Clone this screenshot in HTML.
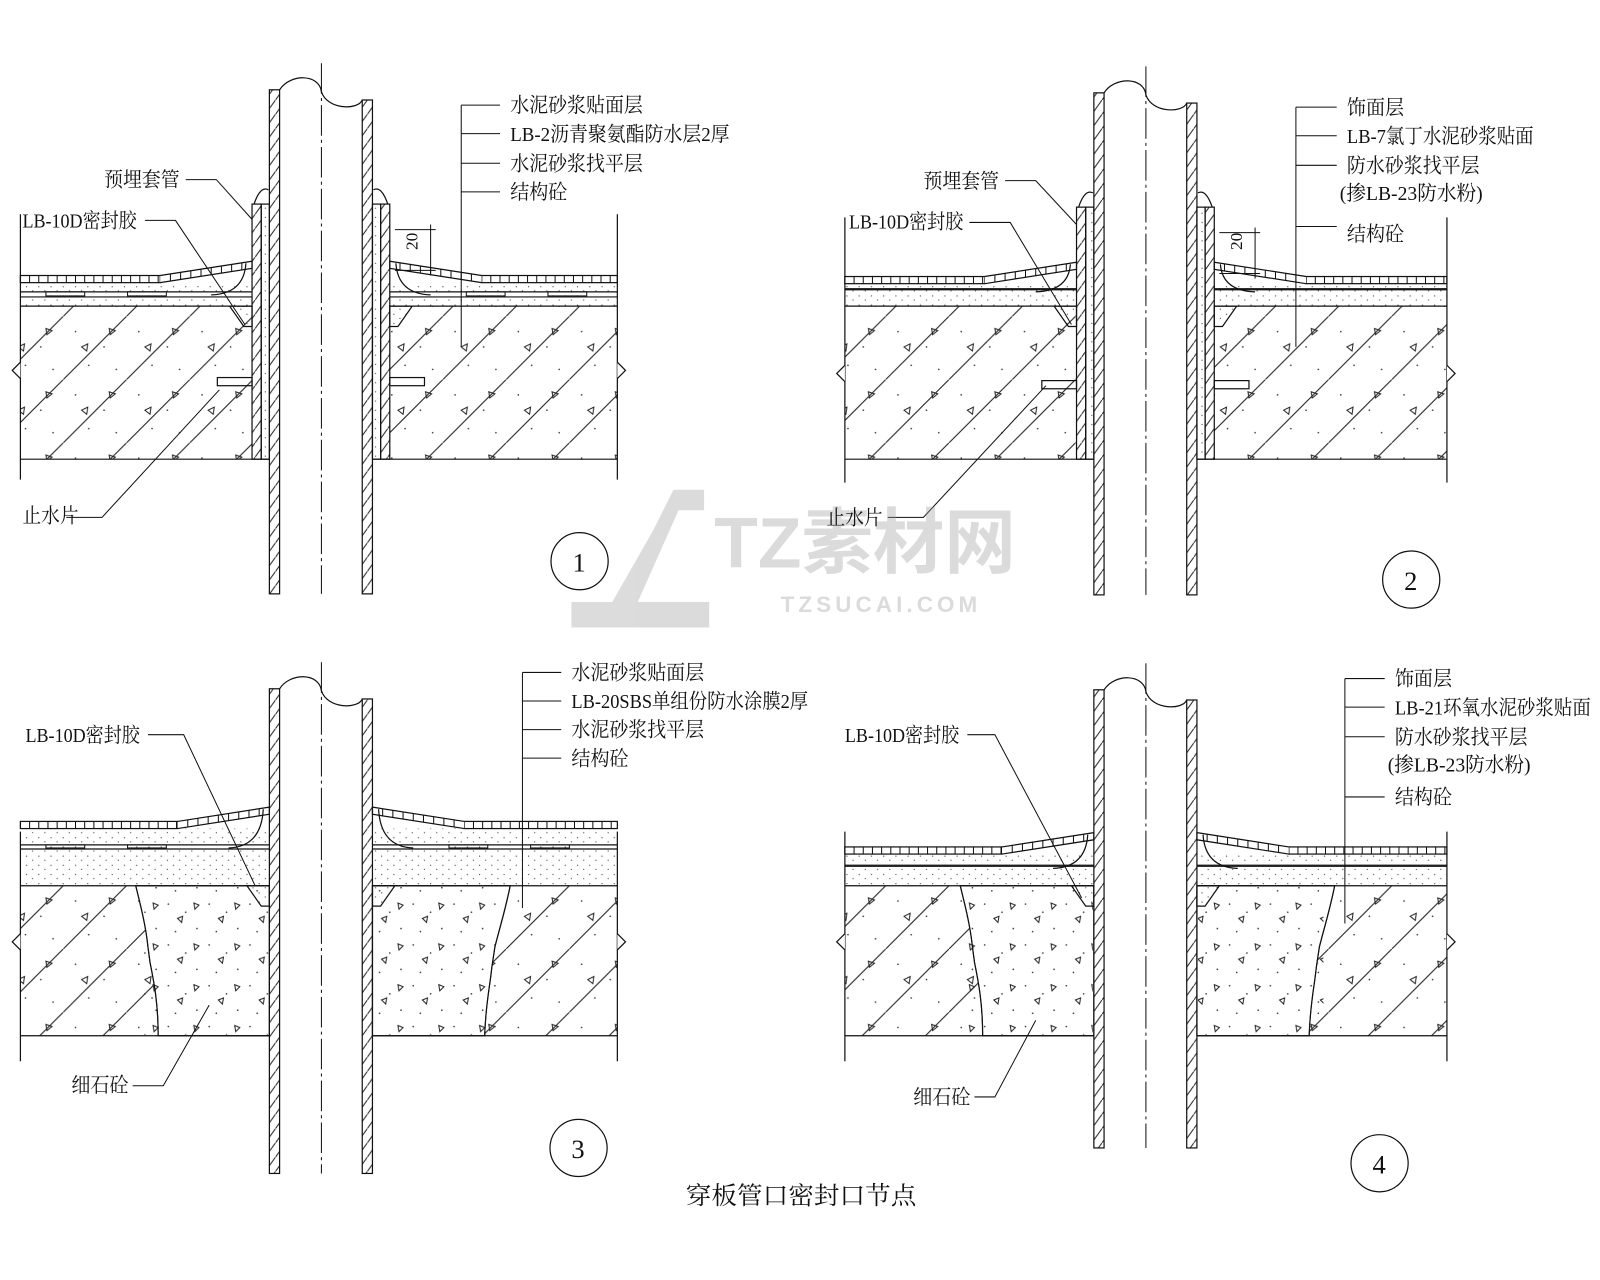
<!DOCTYPE html>
<html><head><meta charset="utf-8"><style>
html,body{margin:0;padding:0;background:#fff;}
svg{display:block;}
text{font-family:"Liberation Serif","Noto Serif CJK SC",serif;fill:#111;}
</style></head><body>
<svg id="s" width="1600" height="1280" viewBox="0 0 1600 1280" xmlns="http://www.w3.org/2000/svg">
<defs>
<pattern id="conc" patternUnits="userSpaceOnUse" width="62" height="62">
<line x1="0" y1="62" x2="62" y2="0" stroke="#222" stroke-width="1.1"/>
<circle cx="12" cy="15" r="0.8" fill="#333"/><circle cx="40" cy="30" r="0.8" fill="#333"/><circle cx="25" cy="48" r="0.8" fill="#333"/><circle cx="52" cy="52" r="0.8" fill="#333"/>
<path d="M18 30 l6 -3 l-1 7z" fill="none" stroke="#222" stroke-width="1"/>
<path d="M45 12 l6 2 l-5 4z" fill="none" stroke="#222" stroke-width="1"/>
</pattern>
<pattern id="fine" patternUnits="userSpaceOnUse" width="40" height="40">
<circle cx="5" cy="6" r="0.8" fill="#333"/><circle cx="22" cy="14" r="0.8" fill="#333"/><circle cx="33" cy="30" r="0.8" fill="#333"/><circle cx="12" cy="33" r="0.8" fill="#333"/>
<path d="M14 20 l5 -2 l-1 6z" fill="none" stroke="#222" stroke-width="1"/>
<path d="M30 5 l5 2 l-4 4z" fill="none" stroke="#222" stroke-width="1"/>
</pattern>
<pattern id="dots" patternUnits="userSpaceOnUse" width="12" height="9">
<circle cx="2" cy="2" r="0.6" fill="#444"/><circle cx="8" cy="6" r="0.6" fill="#444"/>
</pattern>
<pattern id="wall" patternUnits="userSpaceOnUse" width="10" height="14">
<line x1="0" y1="14" x2="10" y2="0" stroke="#222" stroke-width="1"/>
</pattern>
</defs>
<g transform="scale(1.0204)">
<g id="g" stroke="#111" stroke-width="1.2" fill="none"></g>

<g opacity="0.35" fill="#9a9a9a" stroke="none">
<path d="M560 590 L600 590 L640 520 L660 480 L690 480 L690 500 L665 500 L625 590 L695 590 L695 615 L560 615 Z"/>
<text x="700" y="556" font-size="70" font-weight="bold" style="fill:#9a9a9a;font-family:'Liberation Sans','Noto Sans CJK SC',sans-serif">TZ素材网</text>
<text x="765" y="600" font-size="22" font-weight="bold" style="fill:#9a9a9a;font-family:'Liberation Sans',sans-serif;letter-spacing:4px">TZSUCAI.COM</text>
</g>

<g font-size="20">
<text x="500" y="110" textLength="130" lengthAdjust="spacingAndGlyphs">水泥砂浆贴面层</text>
<text x="500" y="138" textLength="215" lengthAdjust="spacingAndGlyphs">LB-2沥青聚氨酯防水层2厚</text>
<text x="500" y="167" textLength="130" lengthAdjust="spacingAndGlyphs">水泥砂浆找平层</text>
<text x="500" y="195" textLength="56" lengthAdjust="spacingAndGlyphs">结构砼</text>
<text x="102" y="183" textLength="74" lengthAdjust="spacingAndGlyphs">预埋套管</text>
<text x="22" y="223" textLength="112" lengthAdjust="spacingAndGlyphs">LB-10D密封胶</text>
<text x="22" y="512" textLength="55" lengthAdjust="spacingAndGlyphs">止水片</text>
<text x="405" y="235" font-size="17" transform="rotate(-90 412 238)">20</text>
<text x="1320" y="112" textLength="56" lengthAdjust="spacingAndGlyphs">饰面层</text>
<text x="1320" y="140" textLength="183" lengthAdjust="spacingAndGlyphs">LB-7氯丁水泥砂浆贴面</text>
<text x="1320" y="169" textLength="130" lengthAdjust="spacingAndGlyphs">防水砂浆找平层</text>
<text x="1313" y="196" textLength="140" lengthAdjust="spacingAndGlyphs">(掺LB-23防水粉)</text>
<text x="1320" y="236" textLength="56" lengthAdjust="spacingAndGlyphs">结构砼</text>
<text x="905" y="184" textLength="74" lengthAdjust="spacingAndGlyphs">预埋套管</text>
<text x="832" y="224" textLength="112" lengthAdjust="spacingAndGlyphs">LB-10D密封胶</text>
<text x="810" y="514" textLength="55" lengthAdjust="spacingAndGlyphs">止水片</text>
<text x="1213" y="235" font-size="17" transform="rotate(-90 1220 238)">20</text>
<text x="560" y="666" textLength="130" lengthAdjust="spacingAndGlyphs">水泥砂浆贴面层</text>
<text x="560" y="694" textLength="232" lengthAdjust="spacingAndGlyphs">LB-20SBS单组份防水涂膜2厚</text>
<text x="560" y="722" textLength="130" lengthAdjust="spacingAndGlyphs">水泥砂浆找平层</text>
<text x="560" y="750" textLength="56" lengthAdjust="spacingAndGlyphs">结构砼</text>
<text x="25" y="727" textLength="112" lengthAdjust="spacingAndGlyphs">LB-10D密封胶</text>
<text x="70" y="1070" textLength="56" lengthAdjust="spacingAndGlyphs">细石砼</text>
<text x="1367" y="672" textLength="56" lengthAdjust="spacingAndGlyphs">饰面层</text>
<text x="1367" y="700" textLength="192" lengthAdjust="spacingAndGlyphs">LB-21环氧水泥砂浆贴面</text>
<text x="1367" y="729" textLength="130" lengthAdjust="spacingAndGlyphs">防水砂浆找平层</text>
<text x="1360" y="756" textLength="140" lengthAdjust="spacingAndGlyphs">(掺LB-23防水粉)</text>
<text x="1367" y="788" textLength="56" lengthAdjust="spacingAndGlyphs">结构砼</text>
<text x="828" y="727" textLength="112" lengthAdjust="spacingAndGlyphs">LB-10D密封胶</text>
<text x="895" y="1082" textLength="56" lengthAdjust="spacingAndGlyphs">细石砼</text>
<text x="561" y="560" font-size="26">1</text>
<text x="1376" y="578" font-size="26">2</text>
<text x="560" y="1135" font-size="26">3</text>
<text x="1345" y="1150" font-size="26">4</text>
<text x="672" y="1180" font-size="24" textLength="226" lengthAdjust="spacingAndGlyphs">穿板管口密封口节点</text>
</g>
</g>
</svg>
<script>
var g=document.getElementById('g');var NS='http://www.w3.org/2000/svg';
function el(t,a){var e=document.createElementNS(NS,t);for(var k in a)e.setAttribute(k,a[k]);g.appendChild(e);return e;}
function L(x1,y1,x2,y2,w){el('line',{x1:x1,y1:y1,x2:x2,y2:y2,'stroke-width':w||1.2});}
function R(x,y,w,h,f,sw){var a={x:x,y:y,width:w,height:h,fill:f||'none'};if(sw!==undefined)a['stroke-width']=sw;el('rect',a);}
function P(d,f,w){el('path',{d:d,fill:f||'none','stroke-width':w||1.2});}
function C(x,y,r){el('circle',{cx:x,cy:y,r:r});}
function tiles(x1,x2,y,h,step){R(Math.min(x1,x2),y,Math.abs(x2-x1),h);for(var x=Math.min(x1,x2);x<Math.max(x1,x2);x+=step)L(x,y,x,y+h,1);}
function detail(ox,oy,o){
 var pl=264+ox,pr=365+ox,cx=315+ox;
 var t=oy+o.tile,m=o.m+oy,s=o.s+oy,lv=o.lv+oy,st=o.st+oy,bt=o.bt+oy;
 var L1=20+ox,R1=o.right+ox;
 var il=o.sleeve?247+ox:pl, ir=o.sleeve?382+ox:pr;
 R(L1,st,il-L1,bt-st,'url(#conc)',0);R(ir,st,R1-ir,bt-st,'url(#conc)',0);
 if(!o.sleeve){
  var a=o.fl+ox,b=o.fr+ox;
  var dl='M'+a+' '+st+' C'+(a+5)+' '+(st+20)+' '+(a+10)+' '+(st+40)+' '+(a+12)+' '+(st+60)+' L'+(a+14)+' '+(st+75)+' C'+(a+18)+' '+(st+95)+' '+(a+22)+' '+(st+115)+' '+(a+22)+' '+bt;
  P(dl+' L'+il+' '+bt+' L'+il+' '+st+'Z','#fff',0);R(a+8,st+1,il-a-9,bt-st-2,'url(#fine)',0);P(dl,'none',1);
  var dr='M'+b+' '+st+' C'+(b-5)+' '+(st+25)+' '+(b-10)+' '+(st+40)+' '+(b-15)+' '+(st+60)+' L'+(b-18)+' '+(st+80)+' C'+(b-20)+' '+(st+100)+' '+(b-24)+' '+(st+115)+' '+(b-25)+' '+bt;
  P(dr+' L'+ir+' '+bt+' L'+ir+' '+st+'Z','#fff',0);R(ir+1,st+1,b-ir-12,bt-st-2,'url(#fine)',0);P(dr,'none',1);
 }
 R(L1,lv,il-L1,st-lv,'url(#dots)',0);R(ir,lv,R1-ir,st-lv,'url(#dots)',0);
 R(L1,m,il-L1,s-m,'url(#dots)',0);R(ir,m,R1-ir,s-m,'url(#dots)',0);
 L(L1,s,il,s);L(ir,s,R1,s);L(L1,lv,il,lv);L(ir,lv,R1,lv);L(L1,st,il,st);L(ir,st,R1,st);L(L1,bt,pl,bt);L(pr,bt,R1,bt);
 if(o.strips){for(var i=0;i<3;i++){var x1=L1+25+i*80;if(x1+38<il-40)R(x1,s,38,lv-s-1,'url(#dots)',1);var x2=ir+75+i*80;if(x2+38<R1)R(x2,s,38,lv-s-1,'url(#dots)',1);}}
 tiles(L1,il-90,t,7,9);tiles(ir+90,R1,t,7,9);
 P('M'+(il-90)+' '+t+' L'+il+' '+(t-14)+' L'+il+' '+(t-7)+' L'+(il-90)+' '+(t+7),'#fff');
 P('M'+(ir+90)+' '+t+' L'+ir+' '+(t-14)+' L'+ir+' '+(t-7)+' L'+(ir+90)+' '+(t+7),'#fff');
 for(var k=1;k<9;k++){var xx=il-90+k*10;L(xx,t-k*1.55,xx,t+7-k*1.55,1);xx=ir+90-k*10;L(xx,t-k*1.55,xx,t+7-k*1.55,1);}
 P('M'+(il-6)+' '+(t-12)+' Q'+(il-8)+' '+(s+2)+' '+(il-40)+' '+(s+3));
 P('M'+(ir+6)+' '+(t-12)+' Q'+(ir+8)+' '+(s+2)+' '+(ir+40)+' '+(s+3));
 P('M'+(il-22)+' '+st+' L'+il+' '+st+' L'+il+' '+(st+20)+' L'+(il-8)+' '+(st+20)+'Z','url(#dots)');
 P('M'+(ir+22)+' '+st+' L'+ir+' '+st+' L'+ir+' '+(st+20)+' L'+(ir+8)+' '+(st+20)+'Z','url(#dots)');
 L(L1,o.bl1+oy,L1,o.bl2+oy);L(R1,o.bl1+oy,R1,o.bl2+oy);
 P('M'+L1+' '+(o.zz+oy)+' l-8 8 l8 8','#fff');P('M'+R1+' '+(o.zz+oy)+' l8 8 l-8 8','#fff');
 if(o.sleeve){
  R(il,oy+200,9,bt-oy-200,'url(#wall)');R(il+9,oy+200,8,bt-oy-200,'url(#dots)');
  R(pr,oy+200,8,bt-oy-200,'url(#dots)');R(pr+8,oy+200,9,bt-oy-200,'url(#wall)');
  P('M'+(il+2)+' '+(oy+200)+' q6 -18 14 -14');P('M'+(ir-2)+' '+(oy+200)+' q-6 -18 -14 -14');
  R(il-34,oy+370,34,8);R(ir,oy+370,34,8);
  L(ir+5,oy+225,ir+45,oy+225,1);L(ir+5,oy+265,ir+45,oy+265,1);L(ir+40,oy+220,ir+40,oy+270,1);
 }
 var top=o.ptop+oy,bot=o.pbot+oy;
 R(pl,top+8,10,bot-top-8,'url(#wall)');R(pr-10,top+18,10,bot-top-18,'url(#wall)');
 P('M'+(pl+10)+' '+(top+8)+' C'+(pl+20)+' '+(top-8)+' '+(cx-2)+' '+(top-8)+' '+cx+' '+(top+10)+' C'+(cx+6)+' '+(top+28)+' '+(pr-14)+' '+(top+28)+' '+(pr-10)+' '+(top+18));
 el('line',{x1:cx,y1:top-18,x2:cx,y2:bot,'stroke-width':1,'stroke-dasharray':'30 4 3 4'});
}
detail(0,0,{tile:270,m:277,s:286,lv:291,st:300,bt:450,right:605,sleeve:1,strips:1,bl1:210,bl2:470,zz:355,ptop:80,pbot:582});
detail(808,3,{tile:268,m:275,s:280,lv:281,st:297,bt:447,right:1418-808,sleeve:1,strips:0,bl1:210,bl2:470,zz:355,ptop:80,pbot:580});
detail(0,0,{tile:805,m:812,s:828,lv:832,st:868,bt:1015,right:605,sleeve:0,strips:1,bl1:815,bl2:1040,zz:915,ptop:667,pbot:1150,fl:133,fr:500});
detail(808,0,{tile:830,m:837,s:848,lv:849,st:868,bt:1015,right:1418-808,sleeve:0,strips:0,bl1:815,bl2:1040,zz:915,ptop:668,pbot:1125,fl:133,fr:500});
function lead(x,ys,y1,x2){L(x,ys[0],x,y1,1);ys.forEach(function(y){L(x,y,x2,y,1);});}
lead(452,[103,131,160,188],340,490);
lead(1270,[105,133,162,222],340,1310);
lead(512,[659,687,715,743],890,550);
lead(1318,[665,693,722,781],905,1357);
P('M182 176 L212 176 L247 215','none',1);P('M142 216 L172 216 L240 318','none',1);P('M65 507 L100 507 L215 382','none',1);
P('M985 177 L1015 177 L1055 220','none',1);P('M950 218 L990 218 L1050 318','none',1);P('M870 507 L905 507 L1025 378','none',1);
P('M145 720 L180 720 L250 868','none',1);P('M948 720 L975 720 L1060 880','none',1);
P('M130 1064 L160 1064 L205 985','none',1);P('M955 1075 L975 1075 L1015 1000','none',1);
C(568,550,28);C(1383,568,28);C(567,1125,28);C(1352,1140,28);
</script>
</body></html>
